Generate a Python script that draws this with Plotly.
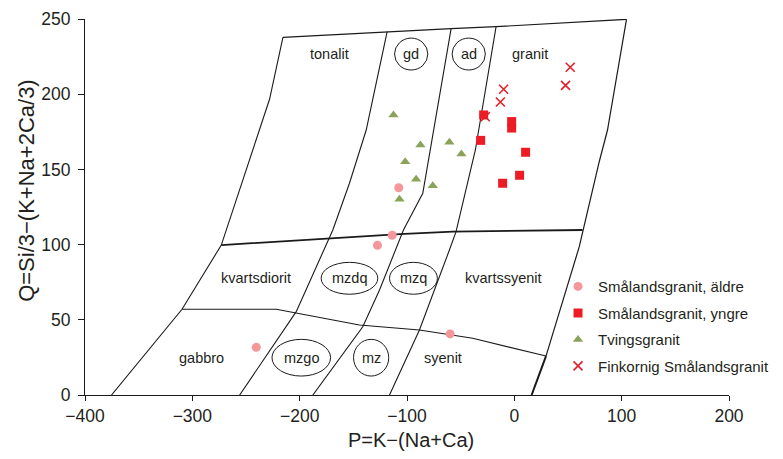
import plotly.graph_objects as go

# ---- sample data (P, Q) ----
aldre_P = [-107.7, -113.8, -127.5, -240.4, -59.8]
aldre_Q = [137.8, 106.2, 99.5, 31.7, 40.6]

yngre_P = [-28.6, -2.5, -2.5, -31.4, 10.5, 4.9, -10.9]
yngre_Q = [186.2, 181.8, 177.5, 169.3, 161.4, 146.1, 140.8]

tving_P = [-112.6, -87.5, -60.5, -49.3, -101.7, -91.5, -76.0, -107.0]
tving_Q = [186.2, 166.2, 168.0, 160.2, 155.1, 143.4, 139.2, 130.1]

fink_P = [52.1, 47.7, -10.0, -13.0, -27.0]
fink_Q = [217.9, 205.9, 203.3, 194.8, 185.0]

series_names = ["Smålandsgranit, äldre", "Smålandsgranit, yngre",
                "Tvingsgranit", "Finkornig Smålandsgranit"]

# ---- classification field boundaries (P, Q) ----
top_P = [-215.6, -118.5, -58.9, -17.0, 104.5]
top_Q = [237.8, 241.6, 243.6, 244.9, 249.8]

left_P = [-215.6, -228.0, -273.0, -309.6, -375.3]
left_Q = [237.8, 196.8, 99.7, 57.0, 0.0]

right_P = [104.5, 86.8, 79.1, 63.6, 60.5, 29.5]
right_Q = [249.8, 176.2, 155.1, 109.7, 98.6, 25.9]

right_low_P = [29.5, 16.1]
right_low_Q = [25.9, 0.0]

upper_h_P = [-273.0, -169.1, -107.0, -57.4, 63.6]
upper_h_Q = [99.7, 104.2, 107.0, 108.6, 109.7]

lower_h_P = [-309.6, -221.8, -144.3, -88.4, -38.8, 29.5]
lower_h_Q = [57.0, 57.0, 46.5, 43.2, 37.7, 25.9]

curveA_P = [-118.5, -138.0, -153.6, -169.1, -203.2, -255.9]
curveA_Q = [241.6, 176.2, 140.8, 109.7, 55.4, 0.0]

curveB_P = [-58.9, -75.1, -85.3, -103.3, -125.6, -141.2, -187.7]
curveB_Q = [243.6, 176.2, 134.1, 109.7, 69.8, 45.4, 0.0]

curveC_P = [-17.0, -33.2, -36.3, -54.3, -60.5, -88.4, -116.3]
curveC_Q = [244.9, 176.2, 162.9, 108.6, 96.4, 43.2, 0.0]

# ---- field labels ----
label_text = ["tonalit", "granit", "kvartsdiorit", "kvartssyenit", "gabbro", "syenit"]
label_P = [-172.2, 14.9, -241.0, -10.2, -291.0, -66.7]
label_Q = [226.7, 226.7, 77.6, 77.6, 24.8, 24.8]

ell_text = ["gd", "ad", "mzdq", "mzq", "mzgo", "mz"]
ell_P = [-96.1, -42.5, -153.6, -94.0, -198.5, -133.4]
ell_Q = [226.7, 226.7, 77.6, 77.6, 24.8, 24.8]
ell_rP = [15.5, 15.5, 26.4, 22.3, 27.3, 16.4]
ell_rQ = [10.6, 10.6, 10.6, 10.6, 12.2, 12.2]

x_ticks = [-400, -300, -200, -100, 0, 100, 200]
x_ticklabels = ["\u2212400", "\u2212300", "\u2212200", "\u2212100", "0", "100", "200"]
y_ticks = [0, 50, 100, 150, 200, 250]

FONT = "Liberation Sans, Arial, Helvetica, sans-serif"
TXT = "#231f20"

fig = go.Figure()

def add_line(px, qy, w=1.2):
    fig.add_trace(go.Scatter(x=px, y=qy, mode="lines",
                             line=dict(color="#1a1a1a", width=w),
                             showlegend=False, hoverinfo="skip"))

for (px, qy, w) in [(top_P, top_Q, 1.2), (left_P, left_Q, 1.1), (right_P, right_Q, 1.2),
                    (right_low_P, right_low_Q, 2.0), (upper_h_P, upper_h_Q, 1.8),
                    (lower_h_P, lower_h_Q, 1.1), (curveA_P, curveA_Q, 1.1),
                    (curveB_P, curveB_Q, 1.1), (curveC_P, curveC_Q, 1.1)]:
    add_line(px, qy, w)

fig.add_trace(go.Scatter(x=aldre_P, y=aldre_Q, mode="markers", name=series_names[0],
                         legendgroup="a",
                         marker=dict(symbol="circle", size=9, color="#f4979b")))
fig.add_trace(go.Scatter(x=yngre_P, y=yngre_Q, mode="markers", name=series_names[1],
                         legendgroup="b",
                         marker=dict(symbol="square", size=9, color="#ed1c24")))
fig.add_trace(go.Scatter(x=tving_P, y=tving_Q, mode="markers", name=series_names[2],
                         legendgroup="c",
                         marker=dict(symbol="triangle-up", size=9, color="#8aa35a")))
fig.add_trace(go.Scatter(x=fink_P, y=fink_Q, mode="markers", name=series_names[3],
                         legendgroup="d",
                         marker=dict(symbol="x-thin", size=9, color="#e3202a",
                                     line=dict(width=1.6, color="#e3202a"))))

for t, p, q in zip(label_text, label_P, label_Q):
    fig.add_annotation(x=p, y=q, text=t, showarrow=False,
                       font=dict(family=FONT, size=14.5, color=TXT))

for t, p, q, rp, rq in zip(ell_text, ell_P, ell_Q, ell_rP, ell_rQ):
    fig.add_shape(type="circle", xref="x", yref="y",
                  x0=p - rp, x1=p + rp, y0=q - rq, y1=q + rq,
                  line=dict(color="#1a1a1a", width=1))
    fig.add_annotation(x=p, y=q, text=t, showarrow=False,
                       font=dict(family=FONT, size=14.5, color=TXT))

# axis titles
fig.add_annotation(xref="paper", yref="paper", x=-0.09, y=0.543,
                   xanchor="center", yanchor="middle",
                   text="Q=Si/3\u2212(K+Na+2Ca/3)", textangle=-90, showarrow=False,
                   font=dict(family=FONT, size=22, color=TXT))
fig.add_annotation(xref="paper", yref="paper", x=0.506, y=-0.12,
                   xanchor="center", yanchor="middle",
                   text="P=K\u2212(Na+Ca)", showarrow=False,
                   font=dict(family=FONT, size=20, color=TXT))

fig.update_layout(
    width=767, height=443,
    margin=dict(l=77, r=46, t=11, b=56, autoexpand=False),
    paper_bgcolor="white", plot_bgcolor="white",
    font=dict(family=FONT, color=TXT),
    legend=dict(x=0.7345, y=0.332, xanchor="left", yanchor="top",
                font=dict(family=FONT, size=15, color=TXT),
                tracegroupgap=4, itemwidth=30, bgcolor="rgba(0,0,0,0)"),
    xaxis=dict(range=[-400, 200], tickvals=x_ticks, ticktext=x_ticklabels,
               showgrid=False, zeroline=False, showline=True, linecolor="#1a1a1a",
               linewidth=1.2, ticks="outside", ticklen=5, tickcolor="#1a1a1a",
               automargin=False,
               tickfont=dict(family=FONT, size=17.5, color=TXT)),
    yaxis=dict(range=[0, 250], tickvals=y_ticks,
               showgrid=False, zeroline=False, showline=True, linecolor="#1a1a1a",
               linewidth=1.2, ticks="outside", ticklen=6, tickcolor="#1a1a1a",
               ticklabelstandoff=4, automargin=False,
               tickfont=dict(family=FONT, size=17.5, color=TXT)),
)

fig.write_html("out.html")
